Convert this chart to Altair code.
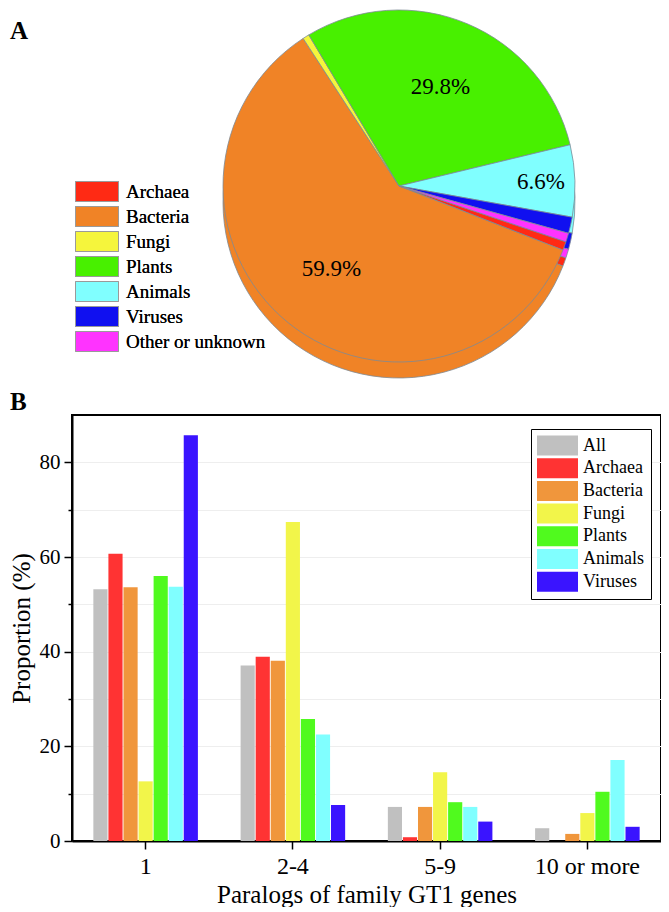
import math
import altair as alt
import pandas as pd

SERIF = "Liberation Serif"

# ---------------- Panel A data (pie) ----------------
pie_groups = ["Archaea", "Bacteria", "Fungi", "Plants", "Animals", "Viruses", "Other or unknown"]
pie_values = [0.8, 59.9, 0.6, 29.8, 6.6, 1.5, 0.8]
pie_colors = ["#ff2a14", "#f08326", "#f5f53c", "#48f000", "#80ffff", "#1010f0", "#ff33ff"]
pie_clockwise = ["Fungi", "Plants", "Animals", "Viruses", "Other or unknown", "Archaea", "Bacteria"]

# ---------------- Panel B data (bars) ----------------
bins = ["1", "2-4", "5-9", "10 or more"]
series = ["All", "Archaea", "Bacteria", "Fungi", "Plants", "Animals", "Viruses"]
series_colors = ["#c0c0c0", "#ff3333", "#f0963c", "#f2f54a", "#50fa1e", "#80ffff", "#3a14ff"]
all_vals = [53.2, 37.1, 7.2, 2.7]
archaea_vals = [60.7, 38.9, 0.8, 0.0]
bacteria_vals = [53.6, 38.1, 7.2, 1.5]
fungi_vals = [12.6, 67.4, 14.5, 5.9]
plants_vals = [56.0, 25.8, 8.2, 10.4]
animals_vals = [53.7, 22.5, 7.2, 17.1]
viruses_vals = [85.7, 7.6, 4.1, 3.0]

panel_letters = ["A", "B"]

# ---------------- build tables ----------------
pie_df = pd.DataFrame({"Group": pie_groups, "Share": pie_values})
pie_df["Order"] = [pie_clockwise.index(g) for g in pie_groups]

series_vals = [all_vals, archaea_vals, bacteria_vals, fungi_vals, plants_vals, animals_vals, viruses_vals]
rows = []
for s, vals in zip(series, series_vals):
    for b, v in zip(bins, vals):
        rows.append({"Bin": b, "Series": s, "Value": v})
bar_df = pd.DataFrame(rows)

# ---------------- layout constants (relative to bar plot origin) ----------------
W = 589
H = 426
R = 176
CX, CY, DEPTH = 327, -229, 16
TH0 = math.radians(-33)
theta_scale = alt.Scale(range=[2 * math.pi + TH0, 4 * math.pi + TH0])

color_pie = alt.Color(
    "Group:N",
    scale=alt.Scale(domain=pie_groups, range=pie_colors),
    legend=alt.Legend(
        title=None, orient="none", legendX=14.5, legendY=-234,
        symbolType="M-2.15,-1H2.15V1H-2.15Z", symbolSize=400,
        symbolStrokeColor="#9a9a9a", symbolStrokeWidth=1,
        labelFont=SERIF, labelFontSize=19, labelColor="black",
        rowPadding=0, labelOffset=18.5, padding=0,
    ),
)

base = alt.Chart(pie_df).encode(
    theta=alt.Theta("Share:Q", stack=True, scale=theta_scale),
    order=alt.Order("Order:Q"),
)

side = base.mark_arc(outerRadius=R, stroke="#7d8a96", strokeWidth=0.8).encode(
    color=color_pie, x=alt.value(CX), y=alt.value(CY + DEPTH)
)
top = base.mark_arc(outerRadius=R, stroke="#7d8a96", strokeWidth=0.8).encode(
    color=color_pie, x=alt.value(CX), y=alt.value(CY)
)
lab_big = base.transform_calculate(
    label="datum.Share > 20 ? format(datum.Share, '.1f') + '%' : ''"
).mark_text(radius=107, font=SERIF, fontSize=23, color="black").encode(
    text="label:N", x=alt.value(CX), y=alt.value(CY)
)
lab_small = base.transform_calculate(
    label="datum.Group == 'Animals' ? format(datum.Share, '.1f') + '%' : ''"
).mark_text(radius=142, font=SERIF, fontSize=23, color="black").encode(
    text="label:N", x=alt.value(CX), y=alt.value(CY)
)

letter_a = alt.Chart(pd.DataFrame({"t": [panel_letters[0]]})).mark_text(
    align="left", baseline="alphabetic", font=SERIF, fontSize=25, fontWeight="bold", color="black"
).encode(text="t:N", x=alt.value(-62), y=alt.value(-376))
letter_b = alt.Chart(pd.DataFrame({"t": [panel_letters[1]]})).mark_text(
    align="left", baseline="alphabetic", font=SERIF, fontSize=25, fontWeight="bold", color="black"
).encode(text="t:N", x=alt.value(-62), y=alt.value(-5))

bars = alt.Chart(bar_df).mark_bar().encode(
    x=alt.X(
        "Bin:N", sort=bins,
        scale=alt.Scale(paddingInner=0.29, paddingOuter=0.145),
        axis=alt.Axis(
            title="Paralogs of family GT1 genes", labelAngle=0, labelFontSize=24,
            titleFontSize=25, tickSize=8, labelPadding=5, titlePadding=4, grid=False,
        ),
    ),
    xOffset=alt.XOffset("Series:N", sort=series, scale=alt.Scale(paddingInner=0.06)),
    y=alt.Y(
        "Value:Q",
        scale=alt.Scale(domain=[0, 90], nice=False),
        axis=alt.Axis(
            title="Proportion (%)", values=list(range(0, 90, 10)),
            labelExpr="datum.value % 20 == 0 ? datum.label : ''",
            tickSize={"condition": {"test": "datum.value % 20 === 0", "value": 8}, "value": 4},
            labelFontSize=21, titleFontSize=25, labelPadding=4, titlePadding=5,
            grid=True, gridColor="#eeeeee", gridWidth=1,
        ),
    ),
    color=alt.Color(
        "Series:N", sort=series,
        scale=alt.Scale(domain=series, range=series_colors),
        legend=alt.Legend(
            title=None, orient="none", legendX=459, legendY=14,
            strokeColor="black", fillColor="white", padding=6.5,
            symbolType="M-1.05,-1H3.05V1H-1.05Z", symbolSize=400, symbolStrokeWidth=0,
            labelFont=SERIF, labelFontSize=18, labelColor="black",
            rowPadding=2.7, labelOffset=25.5,
        ),
    ),
)

chart = alt.layer(
    bars, side, top, lab_big, lab_small, letter_a, letter_b
).resolve_scale(color="independent").properties(
    width=W, height=H, padding={"left": 1, "top": 0, "right": 0, "bottom": 0}
).configure(font=SERIF).configure_view(
    stroke="black", strokeWidth=2
).configure_axis(
    labelFont=SERIF, titleFont=SERIF, labelColor="black", titleColor="black",
    titleFontWeight="normal", domainColor="black", domainWidth=2,
    tickColor="black", tickWidth=1.5,
)

chart.save("out.html", embed_options={"renderer": "svg", "actions": False})
